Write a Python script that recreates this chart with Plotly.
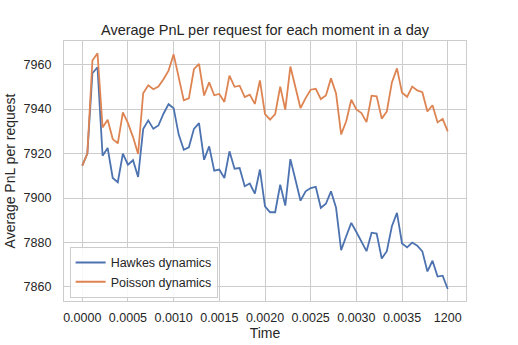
import plotly.graph_objects as go

# moments of the day (index) and the tick labels shown under them
moments = list(range(73))
tick_pos = [0, 9, 18, 27, 36, 45, 54, 63, 72]
tick_labels = ["0.0000", "0.0005", "0.0010", "0.0015", "0.0020",
               "0.0025", "0.0030", "0.0035", "1200"]

hawkes = [
    7914.6, 7920.0, 7956.1, 7958.8, 7919.0, 7922.5, 7909.0, 7907.1, 7920.0, 7915.0,
    7917.0, 7909.5, 7931.0, 7934.9, 7931.1, 7932.6, 7937.9, 7942.2, 7940.4, 7928.5,
    7921.7, 7922.8, 7931.1, 7933.7, 7917.2, 7923.2, 7912.3, 7912.8, 7909.0, 7921.0,
    7913.2, 7913.5, 7905.3, 7906.5, 7902.0, 7912.8, 7896.3, 7893.6, 7893.6, 7906.0,
    7896.6, 7917.5, 7908.2, 7898.8, 7903.0, 7904.5, 7905.0, 7895.6, 7897.4, 7903.0,
    7895.6, 7876.6, 7882.8, 7888.8, 7884.7, 7880.6, 7876.1, 7884.4, 7884.0, 7872.8,
    7876.1, 7887.3, 7893.3, 7879.6, 7877.8, 7880.0, 7878.6, 7876.0, 7867.0, 7871.8,
    7864.7, 7865.1, 7859.1,
]

poisson = [
    7914.6, 7920.0, 7961.8, 7965.1, 7931.7, 7935.2, 7926.5, 7924.6, 7938.5, 7933.7,
    7927.4, 7919.8, 7947.1, 7950.7, 7948.9, 7950.1, 7953.4, 7957.3, 7964.6, 7954.0,
    7943.9, 7944.8, 7957.9, 7960.3, 7946.1, 7952.0, 7946.2, 7946.8, 7943.2, 7955.0,
    7950.0, 7950.5, 7945.4, 7946.5, 7942.3, 7952.9, 7937.7, 7935.2, 7937.7, 7950.1,
    7939.7, 7959.1, 7950.1, 7940.4, 7944.9, 7948.7, 7949.1, 7944.5, 7946.1, 7953.8,
    7947.0, 7928.6, 7934.5, 7944.2, 7939.8, 7938.2, 7934.1, 7946.0, 7945.7, 7935.7,
    7938.9, 7952.0, 7958.3, 7947.3, 7945.5, 7950.1, 7948.4, 7947.6, 7938.9, 7941.7,
    7934.0, 7935.6, 7930.0,
]

grid = "#cccccc"
text = "#262626"
font = "Liberation Sans, Arial, sans-serif"

fig = go.Figure()
fig.add_trace(go.Scatter(x=moments, y=hawkes, mode="lines", name="Hawkes dynamics",
                         line=dict(color="#4C72B0", width=1.8)))
fig.add_trace(go.Scatter(x=moments, y=poisson, mode="lines", name="Poisson dynamics",
                         line=dict(color="#DD8452", width=1.8)))

fig.update_layout(
    width=518, height=345,
    margin=dict(l=64, r=52, t=41, b=44, autoexpand=False),
    paper_bgcolor="white", plot_bgcolor="white",
    font=dict(family=font, size=12.5, color=text),
    legend=dict(x=0.014, y=0.012, xanchor="left", yanchor="bottom",
                bgcolor="rgba(255,255,255,0.85)", bordercolor=grid, borderwidth=1,
                font=dict(size=12.5, color=text), tracegroupgap=0),
    showlegend=True,
    annotations=[dict(text="Average PnL per request for each moment in a day",
                      xref="paper", yref="paper", x=0.5, y=1 + 11 / 260.5,
                      xanchor="center", yanchor="middle", showarrow=False,
                      font=dict(size=14.5, color=text))],
)
fig.update_xaxes(
    range=[-3.6, 75.6], tickmode="array", tickvals=tick_pos, ticktext=tick_labels,
    showgrid=True, gridcolor=grid, gridwidth=1, zeroline=False,
    showline=True, linecolor=grid, linewidth=1.25, mirror=True, automargin=False,
    ticks="", ticklabelstandoff=5, tickfont=dict(size=12.5),
    title=dict(text="Time", font=dict(size=14), standoff=0),
)
fig.update_yaxes(
    range=[7853.7, 7970.6], tickmode="array", tickvals=[7860, 7880, 7900, 7920, 7940, 7960],
    showgrid=True, gridcolor=grid, gridwidth=1, zeroline=False,
    showline=True, linecolor=grid, linewidth=1.25, mirror=True, automargin=False,
    ticks="", ticklabelstandoff=9, tickfont=dict(size=12.5),
    title=dict(text="Average PnL per request", font=dict(size=14), standoff=4),
)

# page has a default body margin; drop it so the figure sits at the window corner
fig.write_html("out.html", config={"displayModeBar": False},
               post_script="document.body.style.margin='0';")
